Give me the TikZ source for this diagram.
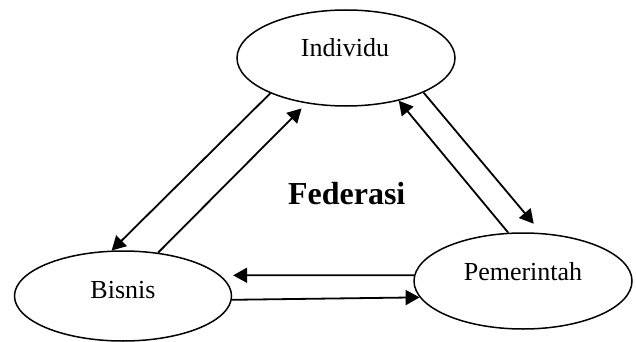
\documentclass[tikz,border=0pt]{standalone}
\usepackage{fontspec}
\setmainfont{Liberation Serif}
\usetikzlibrary{arrows.meta,shapes.geometric}
\begin{document}
\begin{tikzpicture}[x=1pt,y=-1pt,
  oval/.style={draw,ellipse,line width=1.5pt,inner sep=0pt,minimum width=218pt,minimum height=96pt},
  lbl/.style={anchor=base,inner sep=0pt,font=\fontsize{26}{30}\selectfont},
  arr/.style={line width=1.8pt,-{Triangle[length=14pt,width=15pt]}}]
\useasboundingbox (0,0) rectangle (636,342);
\node[oval] (I) at (346,58) {};
\node[oval,minimum width=217pt,minimum height=90pt] (B) at (123,296) {};
\node[oval] (P) at (523,281) {};
\node[lbl] (tI) at (345,56.7) {Individu};
\node[lbl] (tB) at (123,298) {Bisnis};
\node[lbl] (tP) at (523,280) {Pemerintah};
\node[anchor=base,inner sep=0pt,font=\fontsize{32}{36}\selectfont\bfseries] (F) at (346.7,204.3) {Federasi};
\draw[arr] (I.205) -- (B.104);
\draw[arr,shorten >=7pt] (B.51.4) -- (I.229.1);
\draw[arr,shorten >=12pt] (I.336.9) -- (P.69.2);
\draw[arr] (P.107.8) -- (I.321.1);
\draw[arr,shorten >=12.7pt] (P.177) -- (B.12.3);
\draw[arr] (B.358.4) -- (P.189.65);
\end{tikzpicture}
\end{document}
